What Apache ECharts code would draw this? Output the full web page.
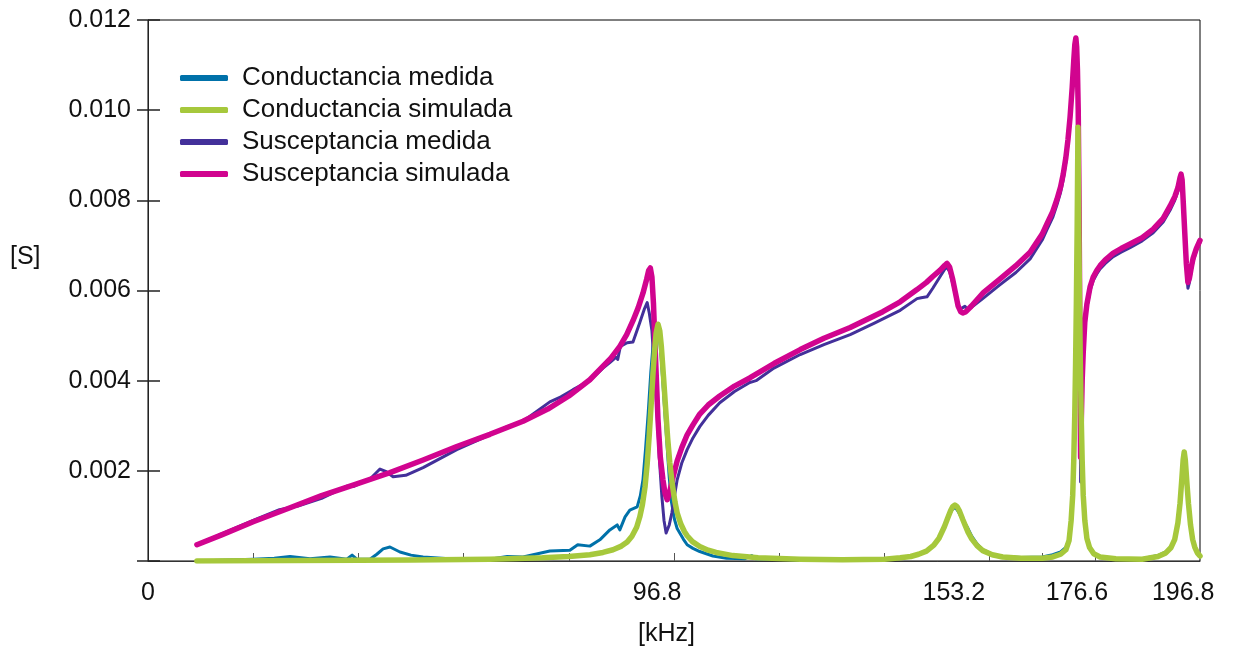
<!DOCTYPE html>
<html>
<head>
<meta charset="utf-8">
<script src="https://cdn.jsdelivr.net/npm/echarts@6/dist/echarts.min.js"></script>
<style>
  html, body { margin: 0; padding: 0; background: #fff; }
  #chart { width: 1233px; height: 650px; }
</style>
</head>
<body>
<div id="chart"></div>
<script>
// frecuencias de resonancia marcadas en el eje x
const xLabels = [0, 96.8, 153.2, 176.6, 196.8]
const xTicks = [20, 40, 60, 80, 100, 120, 140, 160, 170, 180]
const seriesNames = ['Conductancia medida', 'Conductancia simulada', 'Susceptancia medida', 'Susceptancia simulada']

// [kHz, S]
const condMedida = [
  [9.3, 0.00000], [20.0, 0.00004], [24.0, 0.00006], [27.0, 0.00010], [30.8, 0.00005], [34.6, 0.00009],
  [37.8, 0.00004], [38.8, 0.00013], [39.7, 0.00004], [42.2, 0.00004], [43.5, 0.00015], [44.7, 0.00027],
  [46.0, 0.00031], [47.9, 0.00020], [50.0, 0.00013], [52.3, 0.00009], [58.7, 0.00004], [65.0, 0.00004],
  [68.3, 0.00010], [71.3, 0.00009], [76.4, 0.00022], [80.2, 0.00024], [81.7, 0.00036], [84.0, 0.00033],
  [85.9, 0.00047], [87.8, 0.00069], [89.2, 0.00080], [89.7, 0.00069], [90.7, 0.00098], [91.6, 0.00113],
  [93.0, 0.00120], [93.6, 0.00145], [94.1, 0.00180], [94.6, 0.00250], [95.1, 0.00329], [95.6, 0.00420],
  [96.0, 0.00476], [96.4, 0.00508], [96.8, 0.00520], [97.2, 0.00500], [97.6, 0.00445], [98.0, 0.00375],
  [98.4, 0.00305], [98.7, 0.00253], [99.1, 0.00185], [99.5, 0.00132], [100.1, 0.00092], [100.6, 0.00072],
  [101.1, 0.00062], [101.8, 0.00048], [102.5, 0.00036], [103.6, 0.00028], [104.9, 0.00021], [107.4, 0.00011],
  [110.0, 0.00006], [113.5, 0.00005], [114.8, 0.00012], [115.6, 0.00005], [125.0, 0.00002], [140.0, 0.00003],
  [143.0, 0.00006], [145.0, 0.00010], [146.5, 0.00015], [148.0, 0.00023], [149.4, 0.00036], [150.4, 0.00052],
  [151.4, 0.00076], [152.0, 0.00092], [152.6, 0.00108], [153.0, 0.00116], [153.4, 0.00118], [153.8, 0.00114],
  [154.3, 0.00104], [154.9, 0.00090], [155.4, 0.00082], [155.9, 0.00072], [156.6, 0.00055], [157.6, 0.00038],
  [158.7, 0.00025], [160.5, 0.00015], [162.5, 0.00010], [166.0, 0.00008], [170.0, 0.00009], [172.0, 0.00014],
  [173.5, 0.00020], [174.5, 0.00030], [175.1, 0.00048], [175.5, 0.00090], [175.8, 0.00146], [176.0, 0.00223],
  [176.2, 0.00330], [176.35, 0.00439], [176.5, 0.00576], [176.65, 0.00741], [176.8, 0.00950], [176.95, 0.00741],
  [177.1, 0.00576], [177.25, 0.00439], [177.4, 0.00330], [177.6, 0.00223], [177.8, 0.00146], [178.1, 0.00090],
  [178.5, 0.00050], [179.0, 0.00030], [179.8, 0.00016], [181.0, 0.00009], [184.0, 0.00006], [189.0, 0.00005],
  [192.0, 0.00012], [193.5, 0.00020], [194.5, 0.00032], [195.2, 0.00050], [195.8, 0.00085], [196.2, 0.00128],
  [196.5, 0.00175], [196.8, 0.00222], [197.0, 0.00238], [197.2, 0.00222], [197.5, 0.00175], [197.8, 0.00128],
  [198.2, 0.00080], [198.6, 0.00048], [199.0, 0.00031], [199.5, 0.00018], [200.0, 0.00011]
]

const condSimulada = [
  [9.3, 0.00000], [30.0, 0.00001], [50.0, 0.00002], [65.0, 0.00004], [75.0, 0.00007], [80.0, 0.00010],
  [84.0, 0.00014], [86.5, 0.00019], [88.4, 0.00025], [90.0, 0.00033], [91.1, 0.00042], [92.0, 0.00055],
  [92.9, 0.00075], [93.5, 0.00098], [94.0, 0.00125], [94.5, 0.00165], [94.9, 0.00215], [95.3, 0.00280],
  [95.7, 0.00355], [96.0, 0.00415], [96.3, 0.00465], [96.6, 0.00505], [96.96, 0.00525], [97.3, 0.00510],
  [97.6, 0.00475], [98.0, 0.00410], [98.4, 0.00340], [98.8, 0.00272], [99.2, 0.00218], [99.7, 0.00168],
  [100.2, 0.00130], [100.6, 0.00107], [101.3, 0.00082], [102.0, 0.00065], [102.5, 0.00056], [103.5, 0.00043],
  [104.9, 0.00032], [106.5, 0.00024], [108.0, 0.00019], [111.2, 0.00012], [116.0, 0.00007], [124.0, 0.00004],
  [132.0, 0.00003], [140.0, 0.00004], [143.0, 0.00007], [145.0, 0.00010], [146.5, 0.00015], [148.0, 0.00022],
  [149.4, 0.00035], [150.4, 0.00051], [151.4, 0.00076], [152.0, 0.00094], [152.6, 0.00112], [153.0, 0.00121],
  [153.4, 0.00124], [153.8, 0.00121], [154.3, 0.00110], [154.9, 0.00092], [155.4, 0.00078], [155.9, 0.00064],
  [156.6, 0.00049], [157.6, 0.00034], [158.7, 0.00023], [160.5, 0.00014], [162.5, 0.00009], [166.0, 0.00006],
  [170.0, 0.00006], [172.0, 0.00009], [173.5, 0.00015], [174.5, 0.00025], [175.1, 0.00045], [175.5, 0.00090],
  [175.8, 0.00146], [176.0, 0.00223], [176.2, 0.00330], [176.35, 0.00439], [176.5, 0.00576], [176.65, 0.00741],
  [176.8, 0.00962], [176.95, 0.00741], [177.1, 0.00576], [177.25, 0.00439], [177.4, 0.00330], [177.6, 0.00223],
  [177.8, 0.00146], [178.1, 0.00090], [178.5, 0.00050], [179.0, 0.00030], [179.8, 0.00016], [181.0, 0.00009],
  [184.0, 0.00005], [189.0, 0.00004], [192.0, 0.00010], [193.5, 0.00018], [194.5, 0.00030], [195.2, 0.00048],
  [195.8, 0.00085], [196.2, 0.00128], [196.5, 0.00175], [196.8, 0.00225], [197.0, 0.00242], [197.2, 0.00225],
  [197.5, 0.00175], [197.8, 0.00128], [198.2, 0.00080], [198.6, 0.00048], [199.0, 0.00031], [199.5, 0.00018],
  [200.0, 0.00011]
]

const susMedida = [
  [9.3, 0.00036], [14.0, 0.00060], [20.0, 0.00090], [25.0, 0.00114], [28.5, 0.00122], [33.0, 0.00139],
  [37.8, 0.00166], [39.0, 0.00165], [42.2, 0.00182], [44.1, 0.00204], [45.3, 0.00198], [46.6, 0.00187],
  [49.0, 0.00190], [52.3, 0.00207], [58.7, 0.00247], [65.0, 0.00280], [68.3, 0.00298], [71.3, 0.00310],
  [76.4, 0.00353], [78.5, 0.00364], [80.8, 0.00380], [84.0, 0.00400], [86.5, 0.00428], [87.8, 0.00440],
  [89.0, 0.00452], [89.3, 0.00447], [89.8, 0.00476], [91.1, 0.00484], [92.2, 0.00486], [93.5, 0.00529],
  [94.4, 0.00560], [94.9, 0.00573], [95.3, 0.00550], [95.8, 0.00511], [96.3, 0.00420], [96.8, 0.00329],
  [97.2, 0.00230], [97.7, 0.00142], [98.1, 0.00090], [98.5, 0.00062], [99.1, 0.00080], [99.6, 0.00107],
  [100.1, 0.00145], [100.6, 0.00180], [101.5, 0.00218], [102.5, 0.00247], [103.6, 0.00273], [104.9, 0.00298],
  [106.5, 0.00323], [108.7, 0.00351], [111.5, 0.00376], [114.4, 0.00396], [115.0, 0.00398], [115.6, 0.00400],
  [119.0, 0.00428], [124.0, 0.00458], [128.5, 0.00480], [133.5, 0.00502], [138.0, 0.00527], [143.0, 0.00556],
  [146.2, 0.00582], [147.0, 0.00584], [148.1, 0.00586], [149.2, 0.00605], [150.6, 0.00631], [151.5, 0.00648],
  [151.9, 0.00651], [152.4, 0.00642], [153.0, 0.00615], [153.5, 0.00590], [154.0, 0.00568], [154.5, 0.00560],
  [154.9, 0.00562], [155.3, 0.00565], [155.8, 0.00558], [156.5, 0.00562], [158.7, 0.00582], [162.0, 0.00613],
  [165.0, 0.00640], [167.7, 0.00670], [170.0, 0.00712], [170.9, 0.00735], [172.0, 0.00762], [172.8, 0.00790],
  [173.5, 0.00818], [174.0, 0.00846], [174.5, 0.00885], [174.9, 0.00925], [175.3, 0.00975], [175.7, 0.01040],
  [176.0, 0.01100], [176.2, 0.01135], [176.4, 0.01150], [176.55, 0.01130], [176.7, 0.01080], [176.85, 0.00990],
  [177.0, 0.00790], [177.1, 0.00600], [177.2, 0.00350], [177.3, 0.00175], [177.45, 0.00290], [177.6, 0.00380],
  [177.8, 0.00450], [178.1, 0.00520], [178.5, 0.00562], [179.1, 0.00600], [179.7, 0.00622], [180.4, 0.00637],
  [181.0, 0.00648], [182.0, 0.00660], [183.5, 0.00675], [185.0, 0.00685], [186.7, 0.00695], [189.0, 0.00710],
  [191.1, 0.00728], [193.0, 0.00752], [194.3, 0.00778], [195.2, 0.00800], [195.8, 0.00820], [196.2, 0.00840],
  [196.4, 0.00850], [196.6, 0.00838], [196.8, 0.00790], [197.1, 0.00720], [197.4, 0.00650], [197.7, 0.00605],
  [198.0, 0.00618], [198.4, 0.00648], [198.7, 0.00665], [199.3, 0.00688], [200.0, 0.00706]
]

const susSimulada = [
  [9.3, 0.00036], [14.0, 0.00058], [20.0, 0.00087], [27.0, 0.00118], [33.0, 0.00145], [39.7, 0.00171],
  [46.0, 0.00196], [52.3, 0.00224], [58.7, 0.00254], [65.0, 0.00281], [71.3, 0.00310], [76.0, 0.00337],
  [80.0, 0.00366], [84.0, 0.00402], [86.0, 0.00426], [88.0, 0.00450], [89.7, 0.00476], [91.0, 0.00502],
  [92.2, 0.00533], [93.2, 0.00562], [94.1, 0.00594], [94.8, 0.00625], [95.2, 0.00645], [95.5, 0.00650],
  [95.8, 0.00630], [96.1, 0.00570], [96.4, 0.00476], [96.96, 0.00313], [97.4, 0.00230], [97.9, 0.00180],
  [98.3, 0.00150], [98.7, 0.00136], [99.1, 0.00148], [99.4, 0.00165], [99.8, 0.00185], [100.6, 0.00222],
  [101.5, 0.00252], [102.5, 0.00280], [103.6, 0.00302], [104.9, 0.00326], [106.5, 0.00346], [108.7, 0.00366],
  [111.5, 0.00388], [114.4, 0.00406], [119.0, 0.00438], [124.0, 0.00469], [128.5, 0.00494], [133.5, 0.00518],
  [139.7, 0.00553], [143.0, 0.00575], [146.2, 0.00602], [148.0, 0.00618], [149.2, 0.00631], [150.6, 0.00645],
  [151.5, 0.00656], [151.9, 0.00660], [152.4, 0.00652], [153.0, 0.00624], [153.5, 0.00595], [154.0, 0.00566],
  [154.5, 0.00553], [154.9, 0.00550], [155.5, 0.00553], [156.5, 0.00565], [158.7, 0.00594], [162.0, 0.00626],
  [165.0, 0.00655], [167.7, 0.00685], [170.0, 0.00725], [170.9, 0.00748], [172.0, 0.00775], [172.8, 0.00802],
  [173.5, 0.00830], [174.0, 0.00858], [174.5, 0.00895], [174.9, 0.00935], [175.3, 0.00985], [175.7, 0.01050],
  [176.0, 0.01110], [176.2, 0.01145], [176.4, 0.01160], [176.55, 0.01140], [176.7, 0.01090], [176.85, 0.01000],
  [177.0, 0.00800], [177.1, 0.00620], [177.2, 0.00400], [177.3, 0.00230], [177.45, 0.00320], [177.6, 0.00400],
  [177.8, 0.00462], [178.1, 0.00530], [178.5, 0.00570], [179.1, 0.00608], [179.7, 0.00630], [180.4, 0.00645],
  [181.0, 0.00655], [182.0, 0.00668], [183.5, 0.00683], [185.0, 0.00693], [186.7, 0.00703], [189.0, 0.00717],
  [191.1, 0.00736], [193.0, 0.00760], [194.3, 0.00787], [195.2, 0.00808], [195.8, 0.00828], [196.2, 0.00850],
  [196.4, 0.00858], [196.6, 0.00845], [196.8, 0.00800], [197.1, 0.00729], [197.4, 0.00660], [197.7, 0.00618],
  [198.0, 0.00628], [198.4, 0.00655], [198.7, 0.00672], [199.3, 0.00693], [200.0, 0.00711]
]

const colors = ['#0071a9', '#a6c83c', '#43309a', '#d1048f']
const font = 'Liberation Sans, Arial, Helvetica, sans-serif'

const chart = echarts.init(document.getElementById('chart'))

function line (name, data, width, z) {
  return {
    name: name,
    type: 'line',
    data: data,
    showSymbol: false,
    z: z,
    lineStyle: { width: width, cap: 'round', join: 'round' }
  }
}

const option = {
  animation: false,
  color: colors,
  textStyle: { fontFamily: font },
  grid: { left: 148, right: 33, top: 20, bottom: 89, show: true, borderColor: '#000', borderWidth: 1 },
  legend: {
    orient: 'vertical',
    left: 180,
    top: 65,
    padding: 0,
    icon: 'roundRect',
    itemWidth: 48,
    itemHeight: 6,
    itemGap: 6,
    data: seriesNames,
    textStyle: { fontSize: 26, lineHeight: 26, color: '#111', fontFamily: font, padding: [0, 0, 0, 9] }
  },
  xAxis: {
    type: 'value',
    min: 0,
    max: 200,
    splitLine: { show: false },
    axisLine: { lineStyle: { color: '#333', width: 1 } },
    axisTick: { inside: true, length: 8, customValues: xTicks, lineStyle: { color: '#555' } },
    axisLabel: { customValues: xLabels, fontSize: 25, color: '#111', margin: 20, formatter: v => String(v) }
  },
  yAxis: [
    {
      type: 'value',
      min: 0,
      max: 0.012,
      interval: 0.002,
      splitLine: { show: false },
      axisLine: { show: true, lineStyle: { color: '#222', width: 1 } },
      axisTick: { length: 11, lineStyle: { color: '#222', width: 1.5 } },
      axisLabel: { fontSize: 25, color: '#111', margin: 17, formatter: v => v === 0 ? '' : v.toFixed(3) }
    },
    {
      type: 'value',
      min: 0,
      max: 0.012,
      interval: 0.002,
      position: 'left',
      splitLine: { show: false },
      axisLine: { show: false },
      axisTick: { inside: true, length: 12, lineStyle: { color: '#222', width: 1.5 } },
      axisLabel: { show: false }
    }
  ],
  graphic: [
    { type: 'text', left: 10, top: 245, style: { text: '[S]', font: '25px ' + font, fill: '#111' } },
    { type: 'text', left: 638, top: 622, style: { text: '[kHz]', font: '25px ' + font, fill: '#111' } }
  ],
  series: [
    line(seriesNames[0], condMedida, 3, 2),
    line(seriesNames[1], condSimulada, 5.5, 5),
    line(seriesNames[2], susMedida, 3, 3),
    line(seriesNames[3], susSimulada, 5.5, 4)
  ]
}
chart.setOption(option)
</script>
</body>
</html>
